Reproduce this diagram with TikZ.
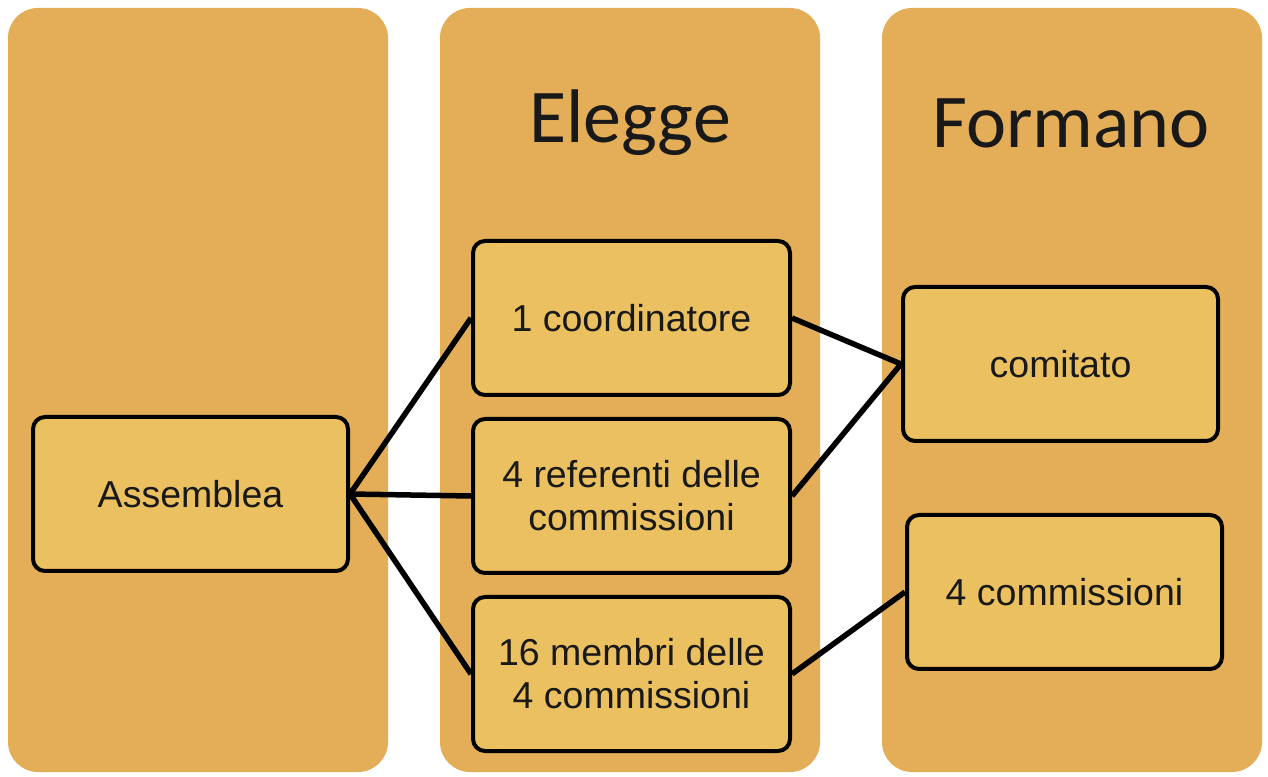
\documentclass[tikz,border=0pt]{standalone}
\usepackage{fontspec}
\setmainfont{Liberation Sans}
\newfontfamily\titlefont{Carlito}
\definecolor{colbg}{HTML}{E3AE57}
\definecolor{boxbg}{HTML}{EAC060}
\begin{document}
\begin{tikzpicture}[x=1pt,y=1pt,
  column/.style={fill=colbg,draw=none,rounded corners=30pt},
  item/.style={draw=black,line width=4pt,fill=boxbg,rounded corners=12pt,
    minimum width=315pt,minimum height=154pt,inner sep=0pt,
    font=\fontsize{37.5}{43}\selectfont,align=center,text=black!90},
  title/.style={font=\titlefont\fontsize{76}{80}\selectfont,text=black!90},
  link/.style={line width=5.5pt}]
\useasboundingbox (0,0) rectangle (1268,776);
\fill[white] (0,0) rectangle (1268,776);
\path[column] (8,4) rectangle (388,768);
\path[column] (440,4) rectangle (820,768);
\path[column] (882,4) rectangle (1262,768);
\node[title] (t2) at (630,653) {Elegge};
\node[title] (t3) at (1071,653) {Formano};
\node[item] (a) at (190.5,282) {Assemblea};
\node[item,minimum width=317pt] (c1) at (631.5,458) {1 coordinatore};
\node[item,minimum width=317pt] (c2) at (631.5,280) {4 referenti delle\\commissioni};
\node[item,minimum width=317pt] (c3) at (631.5,102) {16 membri delle\\4 commissioni};
\node[item] (d1) at (1060.5,412) {comitato};
\node[item] (d2) at (1064.5,184) {4 commissioni};
\draw[link] (a.east) -- (c1.west);
\draw[link] (a.east) -- (c2.west);
\draw[link] (a.east) -- (c3.west);
\draw[link] (c1.east) -- (d1.west);
\draw[link] (c2.east) -- (d1.west);
\draw[link] (c3.east) -- (d2.west);
\end{tikzpicture}
\end{document}
